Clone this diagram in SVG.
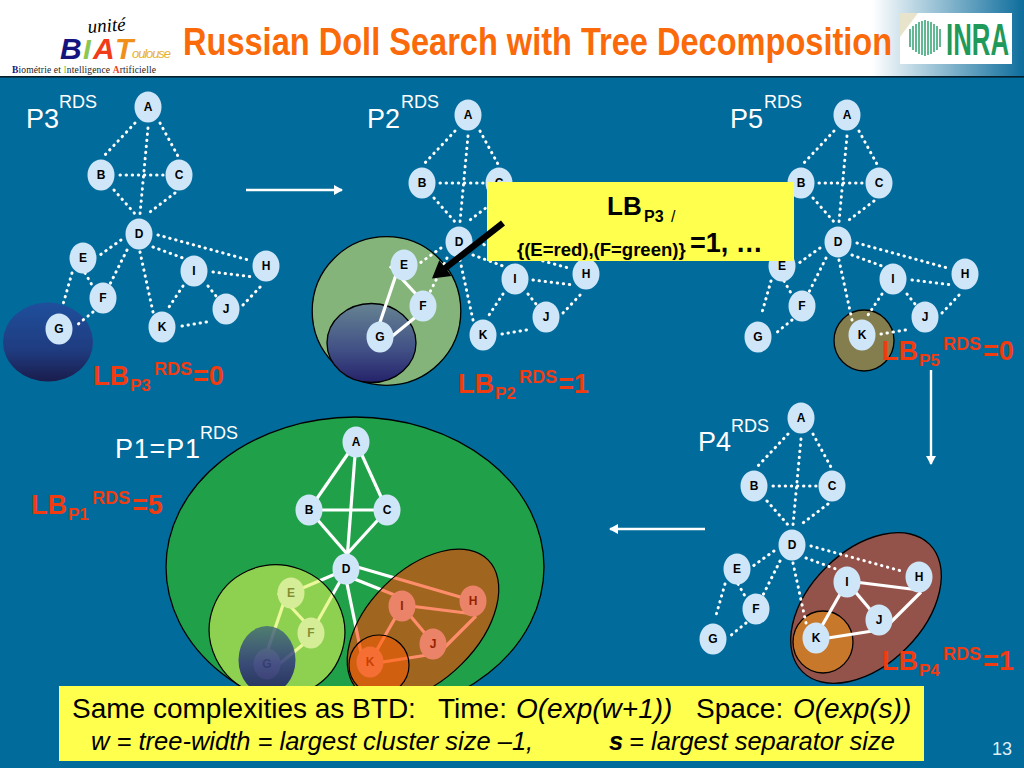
<svg xmlns="http://www.w3.org/2000/svg" width="1024" height="768" viewBox="0 0 1024 768">
<style>
text{font-family:"Liberation Sans",Arial,sans-serif}
.n{fill:#cfe6f8}
.nl{font-size:12px;font-weight:700;text-anchor:middle;fill:#000}
.dot{stroke:#fff;stroke-width:3;stroke-dasharray:0.4 5.7;stroke-linecap:round;fill:none}
.sol{stroke:#fff;stroke-width:3.2;stroke-dasharray:none;stroke-linecap:butt;fill:none}
.pl{font-size:27px;fill:#fff}
.ps{font-size:18px;fill:#fff}
.lb{font-weight:700;fill:#f03c10;font-size:27px}
.lbs{font-size:17px}
.lbr{font-size:18px}
.ar{stroke:#fff;stroke-width:2.4;fill:none}
.ln{stroke:#000;stroke-width:1.3}
</style>
<defs>
<linearGradient id="hd" x1="0" x2="1" y1="0" y2="0"><stop offset="0" stop-color="#fff"/><stop offset="1" stop-color="#0d6d9c"/></linearGradient>
<linearGradient id="gb" x1="0" x2="0" y1="0" y2="1"><stop offset="0" stop-color="#1f4f9c"/><stop offset="0.6" stop-color="#1f3c80"/><stop offset="1" stop-color="#1a1c4c"/></linearGradient>
<linearGradient id="gb2" x1="0" x2="0" y1="0" y2="1"><stop offset="0" stop-color="#668392"/><stop offset="0.6" stop-color="#404f85"/><stop offset="1" stop-color="#25226a"/></linearGradient>
<linearGradient id="gb3" x1="0" x2="0" y1="0" y2="1"><stop offset="0" stop-color="#406a78"/><stop offset="0.55" stop-color="#242a80"/><stop offset="1" stop-color="#0a0a60"/></linearGradient>
<marker id="ah" markerUnits="userSpaceOnUse" markerWidth="10" markerHeight="10" refX="8" refY="5" orient="auto"><path d="M0 0L9 5L0 10Z" fill="#fff"/></marker>
</defs>
<rect width="1024" height="768" fill="#016b9b"/>
<g id="header">
<rect width="1024" height="76" fill="#fff"/>
<rect x="872" width="152" height="76" fill="url(#hd)"/>
<rect y="76" width="1024" height="1.6" fill="#06202c"/>
<text transform="translate(183 55) scale(.857 1)" font-size="38" font-weight="700" fill="#fa6a0a">Russian Doll Search with Tree Decomposition</text>
</g>
<g id="logo-biat">
<text x="88" y="33" font-size="19" font-style="italic" style='font-family:"Liberation Serif",serif' transform="rotate(-4 88 33)">unité</text>
<text x="60" y="59" font-size="30" font-weight="700" font-style="italic" fill="#14147e">B</text>
<text x="83" y="59" font-size="28" font-weight="700" font-style="italic" fill="#8cc850">I</text>
<text x="93" y="59" font-size="30" font-weight="700" font-style="italic" fill="#f03c18">A</text>
<text x="115" y="59" font-size="30" font-weight="700" font-style="italic" fill="#f09018">T</text>
<text x="132" y="58" font-size="13" font-style="italic" fill="#e8b030" textLength="39">oulouse</text>
<text x="12" y="73" font-size="9.5" style='font-family:"Liberation Serif",serif' fill="#222" textLength="144"><tspan fill="#14147e" font-weight="700">B</tspan>iométrie et <tspan fill="#8cc850">I</tspan>ntelligence <tspan fill="#f03c18" font-weight="700">A</tspan>rtificielle</text>
</g>
<g id="logo-inra">
<rect x="900" y="13" width="112" height="51" fill="#fff"/>
<path d="M900 13h18l-18 24z" fill="#e8e4cc"/>
<g stroke="#62b892" stroke-width="2">
<line x1="910" x2="910" y1="29" y2="47"/><line x1="913" x2="913" y1="26" y2="50"/><line x1="916" x2="916" y1="24" y2="52"/><line x1="919" x2="919" y1="22" y2="54"/><line x1="922" x2="922" y1="21" y2="55"/><line x1="925" x2="925" y1="20" y2="56"/><line x1="928" x2="928" y1="21" y2="55"/><line x1="931" x2="931" y1="22" y2="54"/><line x1="934" x2="934" y1="24" y2="52"/><line x1="937" x2="937" y1="26" y2="50"/><line x1="940" x2="940" y1="29" y2="47"/>
</g>
<text transform="translate(946 55) scale(.586 1)" font-size="44" font-weight="700" fill="#1f9a5a">INRA</text>
</g>

<g id="clusters-back">
<ellipse cx="48" cy="342" rx="45" ry="39.5" fill="url(#gb)"/>
<circle cx="386.5" cy="311" r="74.3" fill="#84b479" class="ln"/>
<ellipse cx="371.5" cy="343" rx="44.5" ry="39.5" fill="url(#gb2)" class="ln"/>
<ellipse cx="864" cy="340.5" rx="30" ry="30.5" fill="#847e4f" class="ln"/>
<ellipse cx="866" cy="608" rx="90" ry="57" transform="rotate(-45 866 608)" fill="#94534a" class="ln"/>
<ellipse cx="823" cy="642" rx="30" ry="31" fill="#c8782a" class="ln"/>
<ellipse cx="355" cy="567" rx="189" ry="150" fill="#21a04a" class="ln"/>
</g>

<g id="connectors">
<g id="edges-p3" class="dot">
<line x1="135" y1="123" x2="103" y2="157"/><line x1="160" y1="123" x2="179" y2="158"/><line x1="148" y1="128" x2="140" y2="214"/><line x1="120" y1="175" x2="163" y2="175"/><line x1="114" y1="190" x2="136" y2="215"/><line x1="175" y1="193" x2="146" y2="215"/><line x1="121" y1="240" x2="100" y2="255"/><line x1="127" y1="250" x2="110" y2="284"/><line x1="153" y1="247" x2="183" y2="258"/><line x1="158" y1="235" x2="252" y2="261"/><line x1="140" y1="252" x2="153" y2="312"/><line x1="85" y1="273" x2="92" y2="285"/><line x1="72" y1="273" x2="62" y2="308"/><line x1="93" y1="312" x2="77" y2="325"/><line x1="213" y1="272" x2="253" y2="277"/><line x1="208" y1="286" x2="216" y2="296"/><line x1="183" y1="286" x2="167" y2="310"/><line x1="243" y1="305" x2="262" y2="285"/><line x1="182" y1="326" x2="212" y2="321"/>
</g>
<g id="edges-p2" class="dot" transform="translate(320 8)">
<line x1="135" y1="123" x2="103" y2="157"/><line x1="160" y1="123" x2="179" y2="158"/><line x1="148" y1="128" x2="140" y2="214"/><line x1="120" y1="175" x2="163" y2="175"/><line x1="114" y1="190" x2="136" y2="215"/><line x1="175" y1="193" x2="146" y2="215"/><line x1="121" y1="240" x2="100" y2="255"/><line x1="127" y1="250" x2="110" y2="284"/><line x1="153" y1="247" x2="183" y2="258"/><line x1="158" y1="235" x2="252" y2="261"/><line x1="140" y1="252" x2="153" y2="312"/><line x1="213" y1="272" x2="253" y2="277"/><line x1="208" y1="286" x2="216" y2="296"/><line x1="183" y1="286" x2="167" y2="310"/><line x1="243" y1="305" x2="262" y2="285"/><line x1="182" y1="326" x2="212" y2="321"/>
<g class="sol"><line x1="70" y1="258" x2="107" y2="298"/><line x1="79" y1="258" x2="55" y2="329"/><line x1="103" y1="303" x2="59" y2="339"/></g>
</g>
<g id="edges-p5" class="dot" transform="translate(699 8)">
<line x1="135" y1="123" x2="103" y2="157"/><line x1="160" y1="123" x2="179" y2="158"/><line x1="148" y1="128" x2="140" y2="214"/><line x1="120" y1="175" x2="163" y2="175"/><line x1="114" y1="190" x2="136" y2="215"/><line x1="175" y1="193" x2="146" y2="215"/><line x1="121" y1="240" x2="100" y2="255"/><line x1="127" y1="250" x2="110" y2="284"/><line x1="153" y1="247" x2="183" y2="258"/><line x1="158" y1="235" x2="252" y2="261"/><line x1="140" y1="252" x2="153" y2="312"/><line x1="85" y1="273" x2="92" y2="285"/><line x1="72" y1="273" x2="62" y2="308"/><line x1="93" y1="312" x2="77" y2="325"/><line x1="213" y1="272" x2="253" y2="277"/><line x1="208" y1="286" x2="216" y2="296"/><line x1="183" y1="286" x2="167" y2="310"/><line x1="243" y1="305" x2="262" y2="285"/><line x1="182" y1="326" x2="212" y2="321"/>
</g>
<g id="edges-p4" class="dot" transform="translate(653 311)">
<line x1="135" y1="123" x2="103" y2="157"/><line x1="160" y1="123" x2="179" y2="158"/><line x1="148" y1="128" x2="140" y2="214"/><line x1="120" y1="175" x2="163" y2="175"/><line x1="114" y1="190" x2="136" y2="215"/><line x1="175" y1="193" x2="146" y2="215"/><line x1="121" y1="240" x2="100" y2="255"/><line x1="127" y1="250" x2="110" y2="284"/><line x1="153" y1="247" x2="183" y2="258"/><line x1="158" y1="235" x2="252" y2="261"/><line x1="140" y1="252" x2="153" y2="312"/><line x1="85" y1="273" x2="92" y2="285"/><line x1="72" y1="273" x2="62" y2="308"/><line x1="93" y1="312" x2="77" y2="325"/>
<g class="sol"><line x1="194" y1="270" x2="266" y2="279"/><line x1="194" y1="271" x2="226" y2="309"/><line x1="194" y1="271" x2="162" y2="327"/><line x1="232" y1="317" x2="268" y2="281"/><line x1="162" y1="329" x2="226" y2="319"/></g>
</g>
<g id="edges-p1" class="sol" transform="translate(208 335)">
<line x1="148" y1="107" x2="101" y2="175"/><line x1="148" y1="107" x2="179" y2="175"/><line x1="148" y1="107" x2="139" y2="225"/><line x1="101" y1="175" x2="179" y2="175"/><line x1="101" y1="175" x2="140" y2="220"/><line x1="179" y1="175" x2="138" y2="220"/><line x1="139" y1="234" x2="83" y2="258"/><line x1="139" y1="234" x2="103" y2="298"/><line x1="139" y1="241" x2="194" y2="263"/><line x1="139" y1="229" x2="266" y2="266"/><line x1="136" y1="234" x2="155" y2="327"/><line x1="70" y1="258" x2="107" y2="298"/><line x1="79" y1="258" x2="55" y2="329"/><line x1="103" y1="303" x2="59" y2="339"/><line x1="194" y1="270" x2="266" y2="279"/><line x1="194" y1="271" x2="226" y2="309"/><line x1="194" y1="271" x2="162" y2="327"/><line x1="232" y1="317" x2="268" y2="281"/><line x1="162" y1="329" x2="226" y2="319"/>
</g>
<line id="flow-p3-p2" class="ar" x1="246" y1="190" x2="342" y2="190" marker-end="url(#ah)"/>
<line id="flow-p5-p4" class="ar" x1="931" y1="370" x2="931" y2="464" marker-end="url(#ah)"/>
<line id="flow-p4-p1" class="ar" x1="705" y1="529" x2="610" y2="529" marker-end="url(#ah)"/>
</g>

<g id="p3-nodes">
<g id="p3-a" transform="translate(148 107)"><ellipse class="n" rx="13.5" ry="15.5"/><text class="nl" y="4">A</text></g>
<g id="p3-b" transform="translate(101 175)"><ellipse class="n" rx="13.5" ry="15.5"/><text class="nl" y="4">B</text></g>
<g id="p3-c" transform="translate(179 175)"><ellipse class="n" rx="13.5" ry="15.5"/><text class="nl" y="4">C</text></g>
<g id="p3-d" transform="translate(139 234)"><ellipse class="n" rx="13.5" ry="15.5"/><text class="nl" y="4">D</text></g>
<g id="p3-e" transform="translate(83 258)"><ellipse class="n" rx="13.5" ry="15.5"/><text class="nl" y="4">E</text></g>
<g id="p3-f" transform="translate(103 298)"><ellipse class="n" rx="13.5" ry="15.5"/><text class="nl" y="4">F</text></g>
<g id="p3-g" transform="translate(59 329)"><ellipse class="n" rx="13.5" ry="15.5"/><text class="nl" y="4">G</text></g>
<g id="p3-h" transform="translate(266 266)"><ellipse class="n" rx="13.5" ry="15.5"/><text class="nl" y="4">H</text></g>
<g id="p3-i" transform="translate(194 271)"><ellipse class="n" rx="13.5" ry="15.5"/><text class="nl" y="4">I</text></g>
<g id="p3-j" transform="translate(226 309)"><ellipse class="n" rx="13.5" ry="15.5"/><text class="nl" y="4">J</text></g>
<g id="p3-k" transform="translate(162 327)"><ellipse class="n" rx="13.5" ry="15.5"/><text class="nl" y="4">K</text></g>
</g>
<g id="p2-nodes">
<g id="p2-a" transform="translate(468 115)"><ellipse class="n" rx="13.5" ry="15.5"/><text class="nl" y="4">A</text></g>
<g id="p2-b" transform="translate(422 183)"><ellipse class="n" rx="13.5" ry="15.5"/><text class="nl" y="4">B</text></g>
<g id="p2-c" transform="translate(499 183)"><ellipse class="n" rx="13.5" ry="15.5"/><text class="nl" y="4">C</text></g>
<g id="p2-d" transform="translate(459 242)"><ellipse class="n" rx="13.5" ry="15.5"/><text class="nl" y="4">D</text></g>
<g id="p2-e" transform="translate(404 265)"><ellipse class="n" rx="13.5" ry="15.5"/><text class="nl" y="4">E</text></g>
<g id="p2-f" transform="translate(423 306)"><ellipse class="n" rx="13.5" ry="15.5"/><text class="nl" y="4">F</text></g>
<g id="p2-g" transform="translate(380 337)"><ellipse class="n" rx="13.5" ry="15.5"/><text class="nl" y="4">G</text></g>
<g id="p2-h" transform="translate(586 274)"><ellipse class="n" rx="13.5" ry="15.5"/><text class="nl" y="4">H</text></g>
<g id="p2-i" transform="translate(515 279)"><ellipse class="n" rx="13.5" ry="15.5"/><text class="nl" y="4">I</text></g>
<g id="p2-j" transform="translate(546 317)"><ellipse class="n" rx="13.5" ry="15.5"/><text class="nl" y="4">J</text></g>
<g id="p2-k" transform="translate(483 335)"><ellipse class="n" rx="13.5" ry="15.5"/><text class="nl" y="4">K</text></g>
</g>
<g id="p5-nodes">
<g id="p5-a" transform="translate(847 115)"><ellipse class="n" rx="13.5" ry="15.5"/><text class="nl" y="4">A</text></g>
<g id="p5-b" transform="translate(801 183)"><ellipse class="n" rx="13.5" ry="15.5"/><text class="nl" y="4">B</text></g>
<g id="p5-c" transform="translate(879 183)"><ellipse class="n" rx="13.5" ry="15.5"/><text class="nl" y="4">C</text></g>
<g id="p5-d" transform="translate(838 242)"><ellipse class="n" rx="13.5" ry="15.5"/><text class="nl" y="4">D</text></g>
<g id="p5-e" transform="translate(782 266)"><ellipse class="n" rx="13.5" ry="15.5"/><text class="nl" y="4">E</text></g>
<g id="p5-f" transform="translate(802 306)"><ellipse class="n" rx="13.5" ry="15.5"/><text class="nl" y="4">F</text></g>
<g id="p5-g" transform="translate(758 337)"><ellipse class="n" rx="13.5" ry="15.5"/><text class="nl" y="4">G</text></g>
<g id="p5-h" transform="translate(965 274)"><ellipse class="n" rx="13.5" ry="15.5"/><text class="nl" y="4">H</text></g>
<g id="p5-i" transform="translate(893 279)"><ellipse class="n" rx="13.5" ry="15.5"/><text class="nl" y="4">I</text></g>
<g id="p5-j" transform="translate(925 317)"><ellipse class="n" rx="13.5" ry="15.5"/><text class="nl" y="4">J</text></g>
<g id="p5-k" transform="translate(862 335)"><ellipse class="n" rx="13.5" ry="15.5"/><text class="nl" y="4">K</text></g>
</g>
<g id="p4-nodes">
<g id="p4-a" transform="translate(801 418)"><ellipse class="n" rx="13.5" ry="15.5"/><text class="nl" y="4">A</text></g>
<g id="p4-b" transform="translate(754 486)"><ellipse class="n" rx="13.5" ry="15.5"/><text class="nl" y="4">B</text></g>
<g id="p4-c" transform="translate(832 486)"><ellipse class="n" rx="13.5" ry="15.5"/><text class="nl" y="4">C</text></g>
<g id="p4-d" transform="translate(792 545)"><ellipse class="n" rx="13.5" ry="15.5"/><text class="nl" y="4">D</text></g>
<g id="p4-e" transform="translate(737 569)"><ellipse class="n" rx="13.5" ry="15.5"/><text class="nl" y="4">E</text></g>
<g id="p4-f" transform="translate(756 609)"><ellipse class="n" rx="13.5" ry="15.5"/><text class="nl" y="4">F</text></g>
<g id="p4-g" transform="translate(713 639)"><ellipse class="n" rx="13.5" ry="15.5"/><text class="nl" y="4">G</text></g>
<g id="p4-h" transform="translate(919 577)"><ellipse class="n" rx="13.5" ry="15.5"/><text class="nl" y="4">H</text></g>
<g id="p4-i" transform="translate(847 582)"><ellipse class="n" rx="13.5" ry="15.5"/><text class="nl" y="4">I</text></g>
<g id="p4-j" transform="translate(879 620)"><ellipse class="n" rx="13.5" ry="15.5"/><text class="nl" y="4">J</text></g>
<g id="p4-k" transform="translate(816 638)"><ellipse class="n" rx="13.5" ry="15.5"/><text class="nl" y="4">K</text></g>
</g>
<g id="p1-nodes">
<g id="p1-a" transform="translate(356 442)"><ellipse class="n" rx="13.5" ry="15.5"/><text class="nl" y="4">A</text></g>
<g id="p1-b" transform="translate(309 510)"><ellipse class="n" rx="13.5" ry="15.5"/><text class="nl" y="4">B</text></g>
<g id="p1-c" transform="translate(387 510)"><ellipse class="n" rx="13.5" ry="15.5"/><text class="nl" y="4">C</text></g>
<g id="p1-d" transform="translate(346 569)"><ellipse class="n" rx="13.5" ry="15.5"/><text class="nl" y="4">D</text></g>
<g id="p1-e" transform="translate(291 593)"><ellipse class="n" rx="13.5" ry="15.5"/><text class="nl" y="4">E</text></g>
<g id="p1-f" transform="translate(311 633)"><ellipse class="n" rx="13.5" ry="15.5"/><text class="nl" y="4">F</text></g>
<g id="p1-g" transform="translate(267 664)"><ellipse class="n" rx="13.5" ry="15.5"/><text class="nl" y="4">G</text></g>
<g id="p1-h" transform="translate(473 601)"><ellipse class="n" rx="13.5" ry="15.5"/><text class="nl" y="4">H</text></g>
<g id="p1-i" transform="translate(402 606)"><ellipse class="n" rx="13.5" ry="15.5"/><text class="nl" y="4">I</text></g>
<g id="p1-j" transform="translate(433 644)"><ellipse class="n" rx="13.5" ry="15.5"/><text class="nl" y="4">J</text></g>
<g id="p1-k" transform="translate(370 662)"><ellipse class="n" rx="13.5" ry="15.5"/><text class="nl" y="4">K</text></g>
</g>

<g id="clusters-front">
<ellipse cx="277" cy="631" rx="68" ry="66" transform="rotate(20 277 631)" fill="rgb(219,242,83)" fill-opacity=".59" stroke="#000" stroke-width="1.2"/>
<ellipse cx="423" cy="625" rx="92" ry="55" transform="rotate(-45 423 625)" fill="rgb(253,58,0)" fill-opacity=".58" stroke="#000" stroke-width="1.2"/>
<ellipse cx="267" cy="660" rx="28.5" ry="34" fill="url(#gb3)" fill-opacity=".8"/>
<circle cx="379" cy="665" r="30" fill="rgb(255,92,0)" fill-opacity=".5" stroke="#000" stroke-width="1.2"/>
</g>

<g id="labels">
<text class="pl" x="26" y="128">P3</text><text class="ps" x="59" y="108">RDS</text>
<text class="pl" x="367" y="128">P2</text><text class="ps" x="401" y="108">RDS</text>
<text class="pl" x="730" y="128">P5</text><text class="ps" x="764" y="108">RDS</text>
<text class="pl" x="698" y="451">P4</text><text class="ps" x="731" y="432">RDS</text>
<text class="pl" x="115" y="458" textLength="85">P1=P1</text><text class="ps" x="200" y="439">RDS</text>
<text class="lb" x="93" y="385">LB<tspan class="lbs" x="130" y="391">P3</tspan><tspan class="lbr" x="154" y="375">RDS</tspan><tspan x="193" y="385">=0</tspan></text>
<text class="lb" x="458" y="393">LB<tspan class="lbs" x="495" y="399">P2</tspan><tspan class="lbr" x="519" y="383">RDS</tspan><tspan x="558" y="393">=1</tspan></text>
<text class="lb" x="882" y="360">LB<tspan class="lbs" x="919" y="366">P5</tspan><tspan class="lbr" x="943" y="350">RDS</tspan><tspan x="983" y="360">=0</tspan></text>
<text class="lb" x="882" y="670">LB<tspan class="lbs" x="919" y="676">P4</tspan><tspan class="lbr" x="943" y="660">RDS</tspan><tspan x="983" y="670">=1</tspan></text>
<text class="lb" x="31" y="514">LB<tspan class="lbs" x="68" y="520">P1</tspan><tspan class="lbr" x="92" y="504">RDS</tspan><tspan x="132" y="514">=5</tspan></text>
</g>

<g id="callout">
<rect x="487" y="182" width="307" height="79" fill="#ffff4d"/>
<text font-weight="700" fill="#000"><tspan x="607" y="215" font-size="26">LB</tspan><tspan x="644" y="222" font-size="16">P3</tspan><tspan x="671" y="222" font-size="16" font-weight="400">/</tspan></text>
<text font-weight="700" fill="#000"><tspan x="517" y="256" font-size="18.5">{(E=red),(F=green)}</tspan><tspan x="690" y="252" font-size="27">=1, …</tspan></text>
<path d="M501 220.5L505 225.5L447.4 270.6L451.5 276L432 278.5L439.3 260.2L443.4 265.6Z" fill="#000"/>
</g>

<g id="footer">
<rect x="59" y="686" width="865" height="75" fill="#ffff4d"/>
<text font-size="28" fill="#000"><tspan x="72" y="718">Same complexities as BTD:</tspan><tspan x="438" y="718">Time:</tspan><tspan x="516" y="718" font-style="italic">O(exp(w+1))</tspan><tspan x="696" y="718">Space:</tspan><tspan x="793" y="718" font-style="italic">O(exp(s))</tspan></text>
<text font-size="25.5" fill="#000" font-style="italic"><tspan x="91" y="750">w = tree-width = largest cluster size –1,</tspan><tspan x="609" y="750" font-weight="700">s</tspan><tspan x="622" y="750"> = largest separator size</tspan></text>
<text x="992" y="755" font-size="18" fill="#dfeef6">13</text>
</g>
</svg>
